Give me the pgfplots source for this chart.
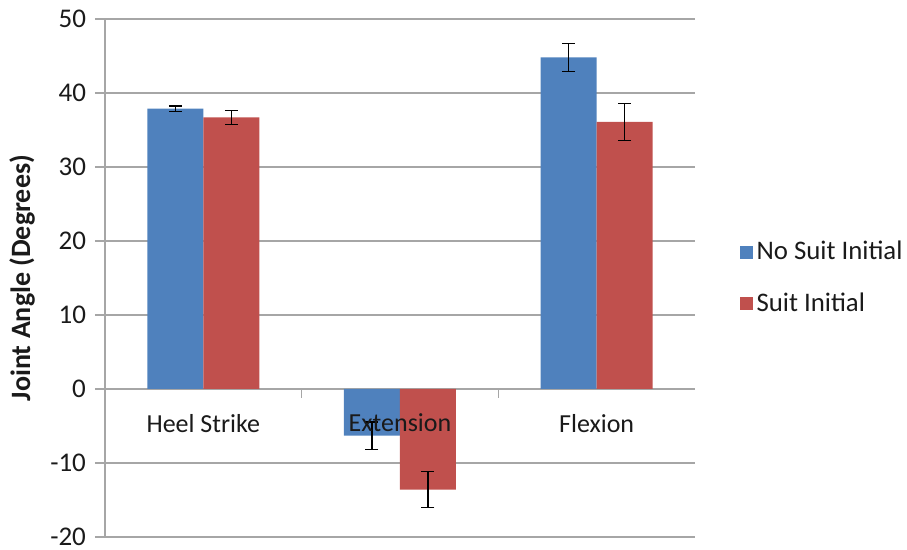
\documentclass[border=0pt]{standalone}
\usepackage{fontspec}
\setmainfont{Carlito}
\usepackage{pgfplots}
\pgfplotsset{compat=1.18}
\definecolor{sblue}{HTML}{4F81BD}
\definecolor{sred}{HTML}{C0504D}
\definecolor{gridc}{HTML}{A6A6A6}
\definecolor{txt}{HTML}{1A1A1A}
\begin{document}
\begin{tikzpicture}
\useasboundingbox (-52.5pt,-6.5pt) rectangle (401pt,268.5pt);
\begin{axis}[
  at={(0,0)}, anchor=south west,
  scale only axis, width=295pt, height=259pt,
  xmin=-0.5, xmax=2.5, ymin=-20, ymax=50,
  ytick={-20,-10,0,10,20,30,40,50},
  ymajorgrids, grid style={gridc, line width=0.6pt},
  axis y line*=left, axis x line*=middle,
  axis line style={gridc, line width=0.6pt},
  /pgf/number format/assume math mode=true,
  ytick style={gridc, line width=0.6pt},
  y tick label style={font=\fontsize{13.5}{15}\selectfont, text=txt, xshift=-1pt},
  tick align=outside, major tick length=5pt,
  xtick={0,1,2},
  xticklabels={},
  x tick style={draw=none},
  extra x ticks={0.5,1.5},
  extra x tick labels={},
  extra x tick style={grid=none, x tick style={draw=gridc, line width=0.6pt}, major tick length=4.5pt, tick align=outside},
  ybar=0pt, bar width=28pt,
  every axis y label/.style={at={(axis description cs:-0.1407,0.5)}, rotate=90, anchor=center, text=txt, font=\bfseries\fontsize{14}{16}\selectfont},
  ylabel={Joint Angle (Degrees)},
  legend style={draw=none, fill=none, at={(1.065,0.5)}, anchor=west, font=\fontsize{13.4}{15}\selectfont, text=txt, row sep=11pt},
  legend cell align=left,
  legend image code/.code={\fill[#1] (0pt,-3.2pt) rectangle (6.4pt,3.2pt);},
  error bars/y dir=both, error bars/y explicit,
  error bars/error bar style={black, line width=0.6pt},
  error bars/error mark options={black, mark size=3.25pt, line width=0.6pt, rotate=90},
]
\addplot+[fill=sblue, draw=none] coordinates {(0,37.9) +- (0,0.35) (1,-6.3) +- (0,1.85) (2,44.8) +- (0,1.9)};
\addplot+[fill=sred, draw=none] coordinates {(0,36.7) +- (0,0.95) (1,-13.6) +- (0,2.4) (2,36.1) +- (0,2.5)};
\legend{No Suit Initial, Suit Initial}
\end{axis}
\begin{axis}[
  at={(0,0)}, anchor=south west,
  scale only axis, width=295pt, height=259pt,
  xmin=-0.5, xmax=2.5, ymin=-20, ymax=50,
  axis x line*=middle, axis y line=none,
  axis line style={draw=none},
  ytick=\empty,
  xtick={0,1,2},
  xticklabels={Heel Strike, Extension, Flexion},
  x tick label style={font=\fontsize{13}{15}\selectfont, text=txt, yshift=-4pt},
  x tick style={draw=none},
  tick align=outside, major tick length=5pt,
]
\end{axis}
\end{tikzpicture}
\end{document}
